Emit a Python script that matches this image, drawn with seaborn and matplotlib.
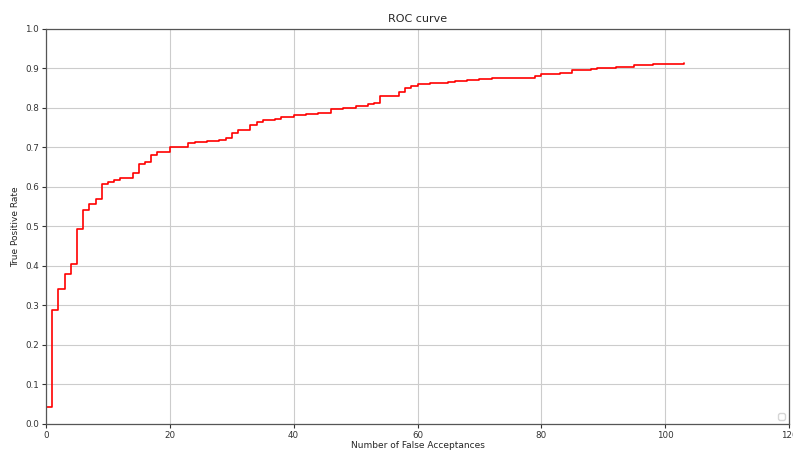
import matplotlib
matplotlib.use("Agg")
import matplotlib.pyplot as plt
import seaborn as sns
import pandas as pd

# Cumulative false acceptances and the matching true positive rate
false_acceptances = [0, 1, 2, 3, 4, 5, 6, 7, 8, 9, 10, 11, 12, 14, 15, 16, 17, 18,
                     20, 23, 24, 26, 28, 29, 30, 31, 32, 33, 34, 35, 37, 38, 40, 42,
                     44, 46, 48, 50, 52, 53, 54, 57, 58, 59, 60, 62, 65, 66, 68, 70,
                     72, 79, 80, 83, 85, 88, 89, 92, 95, 98, 100, 103]
true_positive_rate = [0.043, 0.289, 0.342, 0.380, 0.404, 0.494, 0.542, 0.557, 0.569,
                      0.607, 0.612, 0.617, 0.623, 0.636, 0.657, 0.662, 0.681, 0.688,
                      0.700, 0.711, 0.713, 0.716, 0.720, 0.725, 0.736, 0.743, 0.745,
                      0.757, 0.764, 0.769, 0.773, 0.778, 0.782, 0.785, 0.787, 0.798,
                      0.801, 0.805, 0.810, 0.813, 0.831, 0.840, 0.850, 0.856, 0.860,
                      0.862, 0.865, 0.869, 0.872, 0.874, 0.877, 0.882, 0.886, 0.889,
                      0.896, 0.899, 0.902, 0.905, 0.908, 0.911, 0.912, 0.913]

x_ticks = [0, 20, 40, 60, 80, 100, 120]
y_ticks = [0.0, 0.1, 0.2, 0.3, 0.4, 0.5, 0.6, 0.7, 0.8, 0.9, 1.0]

sns.set_style("whitegrid", {
    "axes.edgecolor": "#555555",
    "grid.color": "#cccccc",
    "xtick.bottom": True,
    "ytick.left": True,
    "xtick.color": "#333333",
    "ytick.color": "#333333",
})
plt.rcParams["font.family"] = ["DejaVu Sans"]

df = pd.DataFrame({"fa": false_acceptances, "tpr": true_positive_rate})

fig = plt.figure(figsize=(7.93, 4.5), dpi=100)
ax = fig.add_axes([0.058, 0.0578, 0.937, 0.8778])

sns.lineplot(data=df, x="fa", y="tpr", estimator=None, sort=False,
             drawstyle="steps-post", color="red", linewidth=1.2, ax=ax)

ax.set_xlim(0, 120)
ax.set_ylim(0.0, 1.0)
ax.set_xticks(x_ticks)
ax.set_yticks(y_ticks)
ax.set_yticklabels([f"{v:.1f}" for v in y_ticks])
ax.tick_params(axis="both", labelsize=6.3, length=3, width=0.8, pad=2)
for s in ax.spines.values():
    s.set_linewidth(0.9)
ax.grid(True, linewidth=0.8)

ax.set_title("ROC curve", fontsize=8, pad=5)
ax.set_xlabel("Number of False Acceptances", fontsize=6.5, labelpad=1)
ax.set_ylabel("True Positive Rate", fontsize=6.5, labelpad=4)

ax.legend(loc="lower right", fontsize=6)

fig.savefig("out.png", dpi=100)
